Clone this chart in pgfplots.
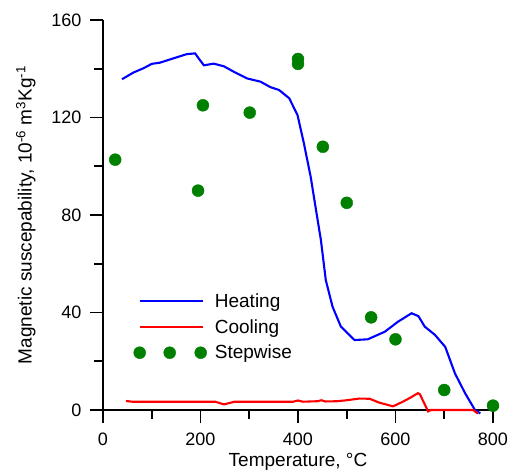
\documentclass[border=0pt]{standalone}
\usepackage{pgfplots}
\pgfplotsset{compat=1.18}
\usepackage{fontspec}
\setmainfont{Liberation Sans}
\definecolor{heatblue}{RGB}{0,0,255}
\definecolor{coolred}{RGB}{255,0,0}
\definecolor{stepgreen}{RGB}{0,128,0}
\begin{document}
\begin{tikzpicture}
\useasboundingbox (0,0) rectangle (508pt,470pt);
\begin{axis}[
    at={(103pt,60pt)}, anchor=south west,
    scale only axis, width=390pt, height=390pt,
    xmin=0, xmax=800, ymin=0, ymax=160,
    axis lines=left, axis line style={-, line width=1.6pt},
    xtick={0,200,...,800}, ytick={0,40,...,160},
    minor x tick num=1, minor y tick num=1,
    tick align=outside,
    major tick length=13pt, minor tick length=9pt,
    tick style={line width=1.6pt, black},
    font=\fontsize{19}{22}\selectfont,
    tick label style={font=\fontsize{18}{21}\selectfont},
    /pgf/number format/assume math mode=true,
    xticklabel style={yshift=-6pt},
    yticklabel style={xshift=-5pt},
    xlabel={Temperature, °C},
    ylabel={Magnetic suscepability, 10\textsuperscript{-6} m\textsuperscript{3}Kg\textsuperscript{-1}},
    xlabel style={yshift=-1pt},
    ylabel style={yshift=9pt},
    clip=false,
    legend style={draw=none, fill=none, at={(axis cs:56,49.5)}, anchor=north west,
        row sep=6.5pt, font=\fontsize{19}{22}\selectfont,
        /tikz/every odd column/.append style={column sep=6pt}},
    legend cell align=left,
    legend image code/.code={\path (0pt,-6pt) (0pt,6pt); \draw[#1] (0pt,0pt) -- (63pt,0pt);},
]
\addplot[heatblue, line width=2.1pt] coordinates {
(39,135.7) (62,138.4) (83,140.2) (100,142) (117,142.5) (145,144.3) (172,146)
(189,146.3) (196,144.3) (207,141.4) (227,142.1) (248,141) (269,138.7) (296,136)
(323,134.7) (344,132.4) (361,131.3) (382,127.9) (399,121) (412,109.5) (426,95.7)
(437,82) (447,69.7) (457,53.3) (471,42.3) (488,34.2) (516,28.7) (543,29)
(578,32.1) (605,36.2) (633,39.7) (647,38.5) (660,34.2) (681,30.8) (702,25.9)
(722,15) (743,6.8) (763,0) (774,-1.4)
};
\addplot[coolred, line width=2.1pt] coordinates {
(47,3.7) (60,3.4) (230,3.4) (240,2.8) (248,2.3) (258,2.8) (270,3.4) (390,3.4)
(400,3.9) (410,3.4) (440,3.6) (448,4.0) (456,3.5) (480,3.6) (500,4.0) (526,4.7)
(547,4.6) (567,3.0) (595,1.5) (615,3.4) (630,5) (646,6.9) (650,6.5) (667,-0.6)
(673,0) (759,0) (769,-1.5)
};
\addplot[only marks, mark=*, mark size=6pt, stepgreen, mark options={fill=stepgreen, draw=stepgreen},
    legend image code/.code={
        \fill[stepgreen] (0pt,0pt) circle (6pt);
        \fill[stepgreen] (30pt,0pt) circle (6pt);
        \fill[stepgreen] (61pt,0pt) circle (6pt);
    }] coordinates {
(25,102.7) (195,90) (205,125) (301,122) (400,144) (400,142) (451,108) (500,85)
(550,38) (600,29) (700,8.2) (800,1.8)
};
\legend{Heating,Cooling,Stepwise}
\end{axis}
\end{tikzpicture}
\end{document}
